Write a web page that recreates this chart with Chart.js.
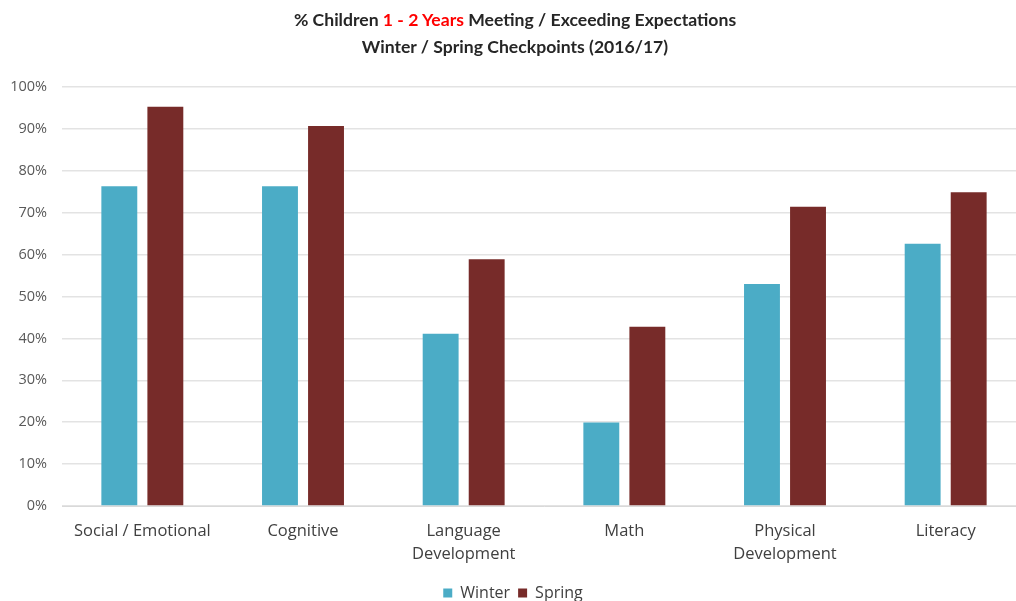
<!DOCTYPE html>
<html>
<head>
<meta charset="utf-8">
<script src="https://cdn.jsdelivr.net/npm/chart.js@4/dist/chart.umd.min.js"></script>
<style>
  html, body { margin: 0; padding: 0; background: #fff; overflow: hidden; }
  #wrap { position: relative; width: 1030px; height: 601px; overflow: hidden; }
  #title {
    position: absolute; left: 0; top: 6px; width: 1030px;
    text-align: center; font-family: Lato, sans-serif; font-weight: bold;
    font-size: 17.6px; line-height: 27px; color: #262626;
  }
  #title .red { color: #ff0000; }
  canvas { position: absolute; left: 0; top: 0; }
</style>
</head>
<body>
<div id="wrap">
  <canvas id="myChart" width="1030" height="611"></canvas>
  <div id="title">% Children <span class="red">1 - 2 Years</span> Meeting / Exceeding Expectations<br>Winter / Spring Checkpoints (2016/17)</div>
</div>
<script>
const categories = [
  "Social / Emotional",
  "Cognitive",
  ["Language", "Development"],
  "Math",
  ["Physical", "Development"],
  "Literacy",
];
const winter = [76.3, 76.3, 41.1, 19.9, 53.0, 62.6];
const spring = [95.3, 90.7, 58.9, 42.8, 71.4, 74.9];
const yTicks = [0, 10, 20, 30, 40, 50, 60, 70, 80, 90, 100];

const font = "'Open Sans', sans-serif";

const ctx = document.getElementById("myChart").getContext("2d");
new Chart(ctx, {
  type: "bar",
  data: {
    labels: categories,
    datasets: [
      {
        label: "Winter",
        data: winter,
        backgroundColor: "#4BACC6",
        categoryPercentage: 0.573,
        barPercentage: 0.78,
      },
      {
        label: "Spring",
        data: spring,
        backgroundColor: "#772B29",
        categoryPercentage: 0.573,
        barPercentage: 0.78,
      },
    ],
  },
  options: {
    responsive: false,
    animation: false,
    layout: { padding: { top: 87, right: 4, left: 0, bottom: 0 } },
    plugins: {
      tooltip: { enabled: false },
      legend: {
        position: "bottom",
        labels: {
          boxWidth: 9,
          boxHeight: 9,
          padding: 8,
          color: "#404040",
          font: { family: font, size: 16 },
        },
      },
    },
    scales: {
      x: {
        afterFit: (scale) => { scale.height = 71; },
        grid: { display: false },
        border: { color: "#d9d9d9" },
        ticks: {
          color: "#404040",
          padding: 6,
          maxRotation: 0,
          autoSkip: false,
          font: { family: font, size: 16.5, lineHeight: 1.4 },
        },
      },
      y: {
        min: 0,
        max: 100,
        afterFit: (scale) => { scale.width = 62; },
        afterBuildTicks: (scale) => {
          scale.ticks = yTicks.map((v) => ({ value: v }));
        },
        grid: { color: "#e3e3e3", lineWidth: 1.5, drawTicks: false },
        border: { display: false },
        ticks: {
          color: "#595959",
          padding: 15,
          font: { family: font, size: 14.5 },
          callback: (v) => v + "%",
        },
      },
    },
  },
});
</script>
</body>
</html>
